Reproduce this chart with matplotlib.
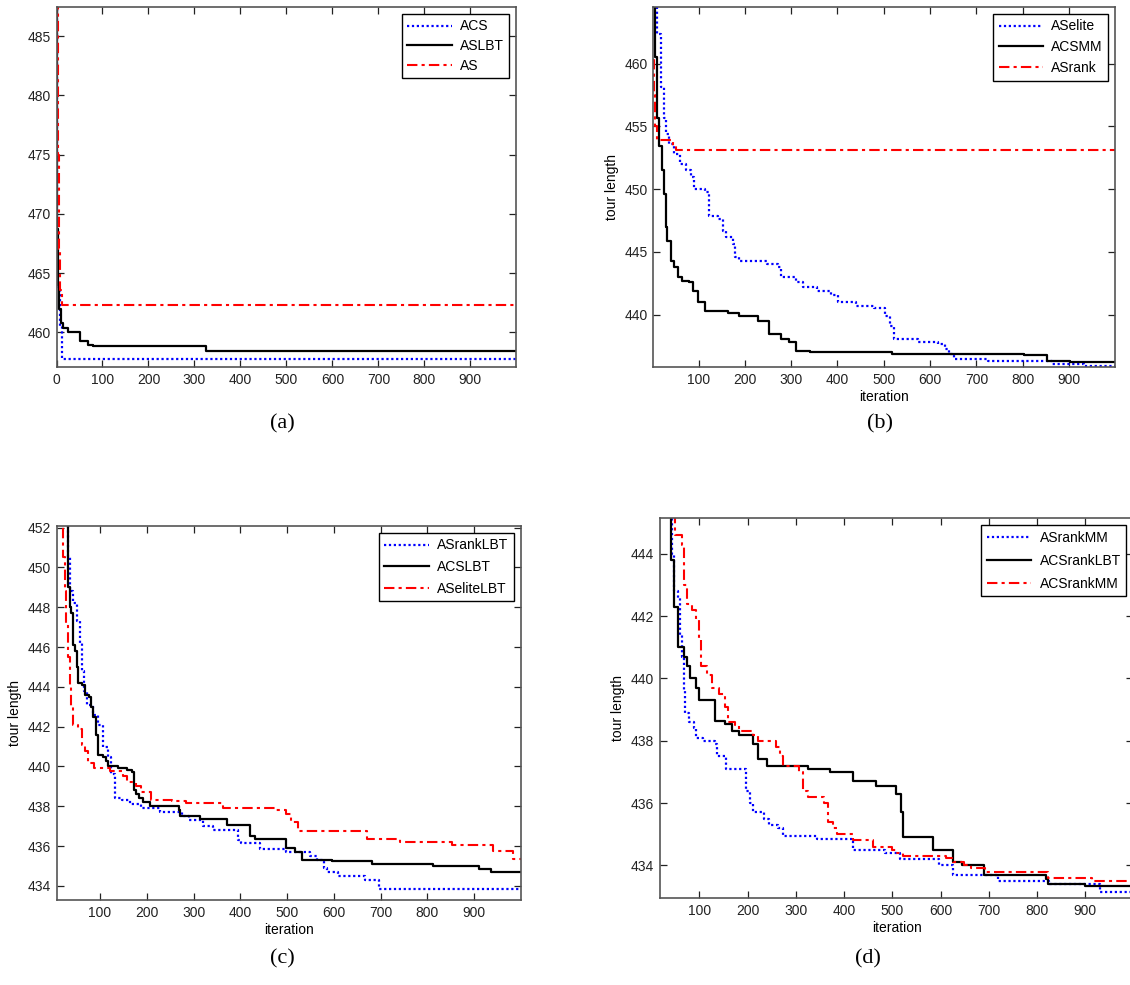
import matplotlib.pyplot as plt

plt.rcParams['font.family'] = ['Liberation Sans', 'DejaVu Sans']

# step curves: (iteration, best tour length)
# (a)
a_acs = [(0, 495), (2, 463.8), (7, 460.5), (12, 457.75)]
a_aslbt = [(0, 495), (1, 468.7), (4, 464.0), (6, 462.0), (9, 460.8), (14, 460.4),
           (25, 460.05), (52, 459.3), (68, 458.95), (80, 458.85), (325, 458.4)]
a_as = [(0, 495), (3, 475), (5, 467), (8, 463.6), (11, 462.3)]

# (b)
b_aselite = [(1, 470), (6, 465), (10, 462.4), (18, 458.1), (25, 455.7), (29, 454.4),
             (37, 453.6), (48, 452.8), (60, 452.0), (72, 451.5), (83, 451.0), (91, 450.0),
             (114, 449.8), (122, 447.9), (141, 447.6), (152, 446.7), (160, 446.2),
             (175, 445.6), (179, 444.6), (187, 444.3), (248, 444.0), (272, 443.8),
             (279, 443.0), (310, 442.6), (325, 442.2), (356, 441.9), (387, 441.6),
             (402, 441.0), (441, 440.7), (479, 440.5), (502, 439.9), (514, 439.1),
             (522, 438.1), (575, 437.8), (618, 437.7), (633, 437.3), (641, 436.9),
             (652, 436.5), (725, 436.3), (864, 436.1), (933, 435.9)]
b_acsmm = [(1, 470), (6, 460.5), (10, 455.7), (14, 453.4), (22, 451.5), (25, 449.6),
           (29, 447.0), (33, 445.9), (41, 444.3), (48, 443.8), (56, 443.0), (64, 442.7),
           (79, 442.6), (87, 441.9), (98, 441.0), (114, 440.3), (164, 440.1), (187, 439.9),
           (229, 439.5), (252, 438.5), (279, 438.1), (295, 437.8), (310, 437.1),
           (341, 437.0), (518, 436.9), (802, 436.8), (852, 436.3), (902, 436.2)]
b_asrank = [(1, 460.3), (3, 457.5), (6, 455.0), (10, 453.9), (45, 453.4), (52, 453.15)]

# (c)
c_asranklbt = [(28, 453), (32, 450.5), (36, 448.8), (43, 448.2), (50, 447.3), (58, 446.2),
               (62, 444.8), (65, 443.8), (73, 443.1), (84, 442.6), (95, 442.1), (106, 441.0),
               (117, 440.5), (124, 439.6), (132, 438.4), (147, 438.3), (165, 438.1),
               (187, 437.9), (228, 437.7), (276, 437.5), (291, 437.3), (320, 437.0),
               (342, 436.8), (394, 436.3), (401, 436.15), (442, 435.85), (497, 435.7),
               (549, 435.5), (564, 435.3), (578, 434.9), (586, 434.7), (608, 434.5),
               (667, 434.3), (697, 433.83)]
c_acslbt = [(25, 453), (32, 449.0), (36, 448.0), (39, 447.7), (43, 446.1), (47, 445.8),
            (50, 445.0), (54, 444.2), (62, 444.1), (69, 443.6), (76, 443.5), (80, 443.0),
            (84, 442.5), (91, 441.6), (95, 440.6), (106, 440.5), (113, 440.3), (117, 440.0),
            (139, 439.9), (158, 439.8), (169, 439.7), (172, 438.8), (176, 438.6),
            (183, 438.4), (191, 438.2), (206, 438.0), (268, 437.8), (272, 437.5),
            (313, 437.35), (372, 437.05), (420, 436.5), (431, 436.35), (497, 435.9),
            (516, 435.7), (531, 435.3), (597, 435.25), (682, 435.1), (811, 435.0),
            (911, 434.85), (937, 434.7)]
c_aselitelbt = [(17, 453), (21, 450.5), (25, 448.8), (28, 447.2), (32, 445.5), (36, 444.1),
                (39, 443.0), (43, 442.1), (54, 441.9), (62, 441.1), (69, 440.8), (75, 440.2),
                (87, 439.9), (121, 439.75), (150, 439.5), (158, 439.2), (176, 439.0),
                (187, 438.7), (209, 438.3), (253, 438.25), (283, 438.15), (364, 437.9),
                (475, 437.8), (497, 437.6), (508, 437.2), (523, 436.75), (671, 436.35),
                (741, 436.2), (852, 436.05), (941, 435.75), (982, 435.35)]

# (d)
d_asrankmm = [(37, 446), (44, 444.0), (48, 442.8), (56, 442.6), (59, 441.4), (63, 440.7),
              (67, 439.6), (70, 438.9), (78, 438.6), (89, 438.4), (93, 438.1), (107, 438.0),
              (133, 437.9), (137, 437.5), (156, 437.1), (196, 436.4), (204, 436.0),
              (211, 435.7), (233, 435.5), (244, 435.3), (263, 435.2), (274, 434.95),
              (344, 434.85), (419, 434.5), (485, 434.4), (515, 434.2), (596, 434.0),
              (626, 433.7), (719, 433.5), (826, 433.4), (930, 433.15)]
d_acsranklbt = [(37, 446), (41, 443.8), (48, 442.3), (56, 441.0), (67, 440.7), (74, 440.4),
                (81, 440.0), (93, 439.7), (100, 439.3), (133, 438.65), (152, 438.55),
                (167, 438.3), (181, 438.2), (211, 437.9), (222, 437.4), (241, 437.2),
                (326, 437.1), (370, 437.0), (419, 436.7), (467, 436.55), (507, 436.3),
                (519, 435.7), (522, 434.9), (585, 434.5), (626, 434.1), (644, 434.0),
                (691, 433.7), (819, 433.55), (822, 433.4), (900, 433.35)]
d_acsrankmm = [(48, 446), (50, 444.6), (63, 444.3), (67, 443.0), (74, 442.4), (85, 442.2),
               (93, 441.9), (100, 441.3), (104, 440.4), (115, 440.1), (126, 439.7),
               (141, 439.5), (152, 439.1), (159, 438.6), (174, 438.5), (181, 438.3),
               (211, 438.2), (222, 438.0), (259, 437.8), (267, 437.5), (274, 437.2),
               (307, 437.0), (315, 436.4), (326, 436.2), (359, 436.0), (367, 435.4),
               (378, 435.2), (385, 435.0), (419, 434.8), (459, 434.6), (500, 434.5),
               (507, 434.4), (522, 434.3), (611, 434.25), (626, 434.1), (648, 434.0),
               (663, 433.9), (693, 433.8), (822, 433.6), (915, 433.5)]

panels = [
    dict(rect=[0.050, 0.627, 0.407, 0.366], xlim=(0, 1000), ylim=(457.04, 487.48),
         xticks=range(0, 1000, 100), yticks=range(460, 486, 5), labels=False, caption='(a)',
         cap_xy=(0.250, 0.560), spacing=0.4,
         series=[(a_acs, 'ACS'), (a_aslbt, 'ASLBT'), (a_as, 'AS')]),
    dict(rect=[0.578, 0.627, 0.409, 0.366], xlim=(2, 1000), ylim=(435.8, 464.52),
         xticks=range(100, 1000, 100), yticks=range(440, 461, 5), labels=True, caption='(b)',
         cap_xy=(0.779, 0.560), spacing=0.5,
         series=[(b_aselite, 'ASelite'), (b_acsmm, 'ACSMM'), (b_asrank, 'ASrank')]),
    dict(rect=[0.050, 0.086, 0.411, 0.380], xlim=(7, 1000), ylim=(433.28, 452.08),
         xticks=range(100, 1000, 100), yticks=range(434, 453, 2), labels=True, caption='(c)',
         cap_xy=(0.250, 0.017), spacing=0.55,
         series=[(c_asranklbt, 'ASrankLBT'), (c_acslbt, 'ACSLBT'), (c_aselitelbt, 'ASeliteLBT')]),
    dict(rect=[0.584, 0.088, 0.419, 0.386], xlim=(18, 1000), ylim=(432.94, 445.15),
         xticks=range(100, 1000, 100), yticks=range(434, 445, 2), labels=True, caption='(d)',
         cap_xy=(0.768, 0.017), spacing=0.65,
         series=[(d_asrankmm, 'ASrankMM'), (d_acsranklbt, 'ACSrankLBT'), (d_acsrankmm, 'ACSrankMM')]),
]

styles = [dict(color='#0000ff', linestyle=(0, (1, 1.2)), linewidth=1.6),
          dict(color='black', linestyle='-', linewidth=1.6),
          dict(color='#ff0000', linestyle=(0, (5, 2, 1.5, 2)), linewidth=1.5)]

fig = plt.figure(figsize=(11.3, 9.85), dpi=100)

for p in panels:
    ax = fig.add_axes(p['rect'])
    for (pts, name), st in zip(p['series'], styles):
        xs = [q[0] for q in pts] + [1000]
        ys = [q[1] for q in pts] + [pts[-1][1]]
        ax.step(xs, ys, where='post', label=name, **st)
    ax.set_xlim(*p['xlim'])
    ax.set_ylim(*p['ylim'])
    ax.set_xticks(list(p['xticks']))
    ax.set_yticks(list(p['yticks']))
    ax.tick_params(direction='in', top=True, right=True, length=5, width=0.9,
                   labelsize=10, pad=4, colors='#222222')
    for sp in ax.spines.values():
        sp.set_color('#555555')
        sp.set_linewidth(1.2)
    if p['labels']:
        ax.set_xlabel('iteration', fontsize=10, labelpad=2)
        ax.set_ylabel('tour length', fontsize=10, labelpad=4)
    leg = ax.legend(loc='upper right', fontsize=10, handlelength=3.2, fancybox=False,
                    framealpha=1, edgecolor='black', borderaxespad=0.5,
                    labelspacing=p['spacing'], borderpad=0.4, handletextpad=0.6)
    leg.get_frame().set_linewidth(1.0)
    fig.text(p['cap_xy'][0], p['cap_xy'][1], p['caption'], family='Liberation Serif',
             fontsize=16, ha='center', va='bottom')

fig.savefig('out.png', dpi=100)
